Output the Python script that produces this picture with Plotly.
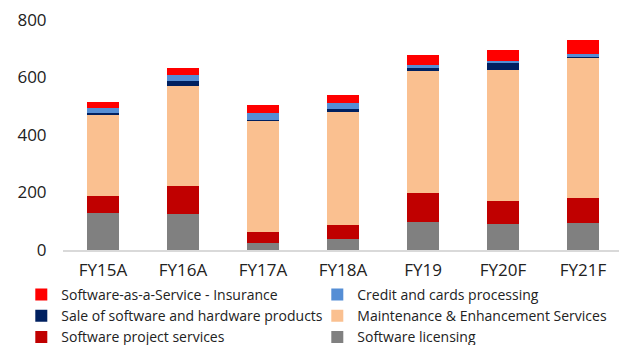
import plotly.graph_objects as go

categories = ["FY15A", "FY16A", "FY17A", "FY18A", "FY19", "FY20F", "FY21F"]
software_licensing = [130, 125, 24, 37, 99, 90, 94]
software_project = [58, 99, 40, 50, 100, 80, 87]
maintenance = [284, 347, 387, 394, 424, 457, 490]
sale_sw_hw = [5, 18, 1, 8, 10, 24, 2]
credit_cards = [16, 18, 23, 21, 12, 6, 9]
saas_insurance = [21, 27, 29, 29, 33, 40, 48]

series = [
    ("Software licensing", software_licensing, "#808080"),
    ("Software project services", software_project, "#C00000"),
    ("Maintenance & Enhancement Services", maintenance, "#FAC090"),
    ("Sale of software and hardware products", sale_sw_hw, "#002060"),
    ("Credit and cards processing", credit_cards, "#558ED5"),
    ("Software-as-a-Service - Insurance", saas_insurance, "#FF0000"),
]

fig = go.Figure()
for name, vals, col in series:
    fig.add_trace(go.Bar(x=categories, y=vals, name=name,
                         marker=dict(color=col, line=dict(width=0))))

font_family = "Open Sans, sans-serif"
fig.update_layout(
    barmode="stack",
    bargap=0.6,
    width=619, height=345,
    margin=dict(l=63, r=0, t=20, b=95, autoexpand=False),
    paper_bgcolor="white", plot_bgcolor="white",
    font=dict(family=font_family, color="#222222"),
    showlegend=True,
    legend=dict(orientation="h", traceorder="reversed",
                x=-0.075, y=-0.126, xanchor="left", yanchor="top",
                entrywidth=251, entrywidthmode="pixels",
                font=dict(size=14, color="#222222"),
                itemwidth=30, tracegroupgap=0,
                bgcolor="rgba(0,0,0,0)"),
    xaxis=dict(range=[-0.5, 6.45], showgrid=False, showline=True,
               linecolor="#D9D9D9", linewidth=2,
               ticks="outside", ticklen=4, tickcolor="rgba(0,0,0,0)",
               tickfont=dict(size=17, color="#222222")),
    yaxis=dict(range=[0, 800], dtick=200, showgrid=False, showline=False,
               zeroline=False,
               ticks="outside", ticklen=12, tickcolor="rgba(0,0,0,0)",
               tickfont=dict(size=17, color="#222222")),
)

fig.write_html("out.html")
